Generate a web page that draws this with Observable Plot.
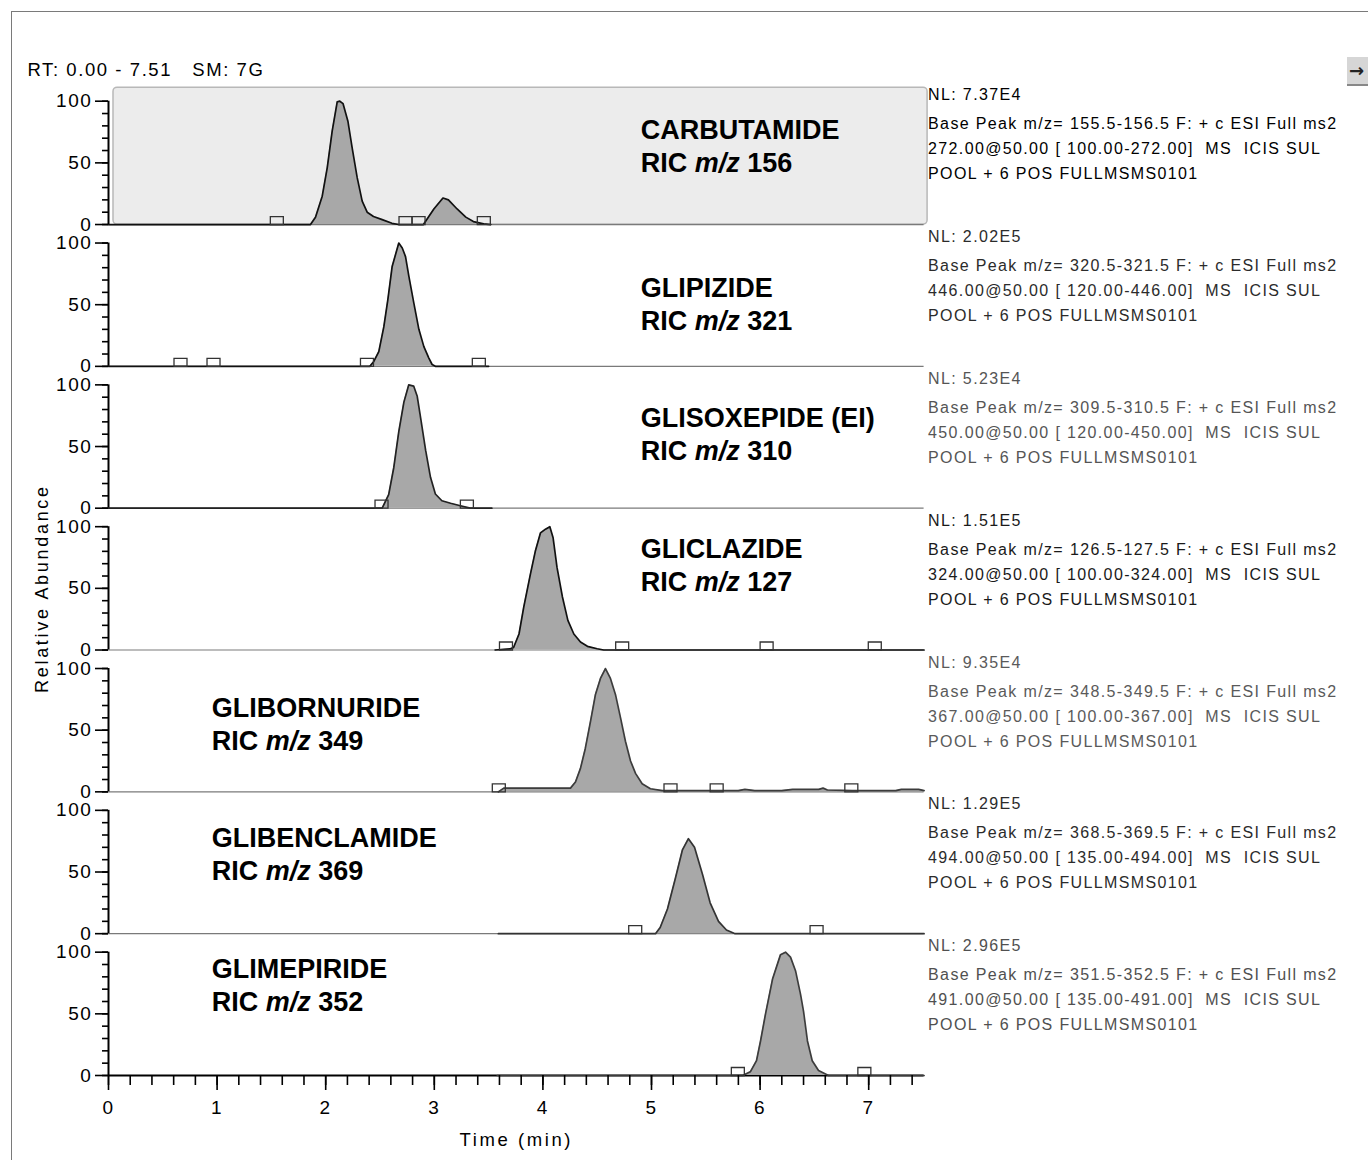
<!DOCTYPE html>
<html><head><meta charset="utf-8">
<script src="https://cdn.jsdelivr.net/npm/d3@7"></script>
<script src="https://cdn.jsdelivr.net/npm/@observablehq/plot@0.6"></script>
<style>
html,body{margin:0;padding:0;background:#fff;}
#wrap{position:relative;width:1368px;height:1160px;overflow:hidden;}
#frame{position:absolute;left:11px;top:11px;width:1400px;height:1200px;border-left:1.5px solid #7a7a7a;border-top:1.5px solid #7a7a7a;pointer-events:none;}
#icon{position:absolute;left:1347px;top:57px;width:24px;height:27px;background:#d6d6d6;border-bottom:2px solid #888;font:bold 18px "DejaVu Sans";line-height:27px;color:#222;padding-left:2px;}
#wrap svg text{white-space:pre;letter-spacing:0.085em;}
#wrap svg g[font-weight="bold"] text{letter-spacing:0;}
</style></head><body><div id="wrap"><div id="frame"></div><div id="icon">→</div></div>
<script>
// ---------- data ----------
const xMax = 7.51;
const panels = ["CARBUTAMIDE", "GLIPIZIDE", "GLISOXEPIDE (EI)", "GLICLAZIDE", "GLIBORNURIDE", "GLIBENCLAMIDE", "GLIMEPIRIDE"];
const ricMz = [156, 321, 310, 127, 349, 369, 352];
const nlValues = ["7.37E4", "2.02E5", "5.23E4", "1.51E5", "9.35E4", "1.29E5", "2.96E5"];
const basePeakRanges = ["155.5-156.5", "320.5-321.5", "309.5-310.5", "126.5-127.5", "348.5-349.5", "368.5-369.5", "351.5-352.5"];
const precursorMz = ["272.00", "446.00", "450.00", "324.00", "367.00", "494.00", "491.00"];
const scanRanges = ["100.00-272.00", "120.00-446.00", "120.00-450.00", "100.00-324.00", "100.00-367.00", "135.00-494.00", "135.00-491.00"];

// [time (min), relative abundance]
const traceCarbutamide = [[0,0],[1.86,0],[1.906,5.9],[1.968,23],[2.014,46],[2.06,76],[2.106,99.5],[2.13,100],[2.16,98],[2.204,84],[2.244,62],[2.29,38],[2.336,19],[2.382,10],[2.44,6.5],[2.52,4],[2.61,1],[2.67,0],[2.90,0],[2.996,12.6],[3.08,21.5],[3.13,20],[3.21,12.6],[3.29,6],[3.36,2.4],[3.455,0.5],[3.52,0]];
const traceGlipizide = [[0,0],[2.406,0],[2.443,4],[2.489,12],[2.535,32],[2.572,54],[2.612,81],[2.673,100],[2.705,96],[2.735,89],[2.766,73],[2.812,51],[2.858,30],[2.904,16],[2.95,6.7],[2.98,1.5],[3.01,0],[3.5,0]];
const traceGlisoxepide = [[0,0],[2.52,0],[2.58,11],[2.627,33],[2.673,62],[2.72,86],[2.765,100],[2.81,99],[2.842,91],[2.878,71],[2.92,47],[2.965,25],[3.01,11.5],[3.07,6],[3.15,4],[3.24,2],[3.33,0],[3.53,0]];
const traceGliclazide = [[3.56,0],[3.7,1],[3.73,2],[3.78,13],[3.824,35],[3.886,62],[3.93,80],[3.978,95],[4.024,98],[4.064,100],[4.094,91],[4.13,67],[4.18,43],[4.23,24],[4.285,13],[4.346,6.5],[4.41,3],[4.5,1],[4.56,0],[7.51,0]];
const traceGlibornuride = [[3.59,0],[3.64,3],[4.254,3],[4.30,8],[4.346,19],[4.39,35],[4.438,57],[4.484,79],[4.53,92],[4.576,100],[4.622,92],[4.668,79],[4.715,60],[4.76,41],[4.807,25],[4.853,15],[4.914,6.5],[4.99,2.5],[5.1,1],[5.8,1],[5.86,2],[5.95,1],[6.2,1],[6.3,2],[6.54,2],[6.58,3],[6.62,1.5],[6.85,1],[7.25,1],[7.3,2],[7.46,2],[7.51,1]];
const traceGlibenclamide = [[3.59,0],[5.037,0],[5.08,5],[5.147,20],[5.22,45],[5.285,68],[5.34,77],[5.396,70],[5.47,48],[5.54,25],[5.617,10],[5.69,3],[5.77,0],[7.51,0]];
const traceGlimepiride = [[3.58,0],[5.84,0],[5.91,3],[5.967,12],[6.004,28],[6.05,50],[6.114,78],[6.188,98],[6.234,100],[6.28,96],[6.326,85],[6.372,66],[6.40,52],[6.436,28],[6.48,12],[6.538,4],[6.63,0],[7.51,0]];

// peak boundary markers (time, min)
const markersCarbutamide = [1.55, 2.735, 2.855, 3.456];
const markersGlipizide = [0.663, 0.967, 2.38, 3.41];
const markersGlisoxepide = [2.514, 3.30];
const markersGliclazide = [3.66, 4.73, 6.06, 7.056];
const markersGlibornuride = [3.594, 5.175, 5.6, 6.84];
const markersGlibenclamide = [4.85, 6.52];
const markersGlimepiride = [5.795, 6.96];

// ---------- layout / style (not data) ----------
const labelAt = [[4.9, 62.9], [4.9, 49.9], [4.9, 59.2], [4.9, 68.1], [0.95, 54.7], [0.95, 64.1], [0.95, 73]];
const annInk = ["#000", "#2b2b2b", "#555", "#1a1a1a", "#5a5a5a", "#2b2b2b", "#505050"];
const traceInk = ["#111", "#111", "#222", "#111", "#3c3c3c", "#333", "#3c3c3c"];

const traces = [traceCarbutamide, traceGlipizide, traceGlisoxepide, traceGliclazide, traceGlibornuride, traceGlibenclamide, traceGlimepiride];
const markers = [markersCarbutamide, markersGlipizide, markersGlisoxepide, markersGliclazide, markersGlibornuride, markersGlibenclamide, markersGlimepiride];

const traceRows = panels.flatMap((p, i) => traces[i].map(([t, v]) => ({panel: p, t, v, ink: traceInk[i]})));
const markerRows = panels.flatMap((p, i) => markers[i].map(t => ({panel: p, t})));
const labelRows = panels.map((p, i) => ({panel: p, name: p, mz: ricMz[i], lx: labelAt[i][0], ly: labelAt[i][1]}));
const annRows = panels.map((p, i) => ({
  panel: p, ink: annInk[i],
  nl: `NL: ${nlValues[i]}`,
  block: `Base Peak m/z= ${basePeakRanges[i]} F: + c ESI Full ms2\n${precursorMz[i]}@50.00 [ ${scanRanges[i]}]  MS  ICIS SUL\nPOOL + 6 POS FULLMSMS0101`
}));

const boxSymbol = {draw(ctx) { ctx.moveTo(-6.5, 0); ctx.lineTo(-6.5, -8); ctx.lineTo(6.5, -8); ctx.lineTo(6.5, 0); ctx.closePath(); }};

const svg = Plot.plot({
  width: 1368, height: 1160,
  marginLeft: 108, marginRight: 1368 - 108 - 108.6 * xMax, marginTop: 82.2, marginBottom: 85,
  x: {domain: [0, xMax]},
  y: {domain: [0, 115], label: null},
  fy: {domain: panels, padding: 0, round: false, axis: null},
  color: {type: "identity"},
  style: {fontFamily: "'Liberation Sans', Arial, sans-serif", fontSize: "16px", color: "#000", background: "#fff", overflow: "visible"},
  marks: [
    Plot.rect([panels[0]], {fy: d => d, x1: 0, x2: xMax, y1: 0, y2: 115, insetLeft: 5, insetRight: -3.5, insetTop: 5, fill: "#ececec", stroke: "#b8b8b8", strokeWidth: 1.5, rx: 4}),
    Plot.ruleY(panels, {fy: d => d, y: 0, stroke: d => d === panels[6] ? "#000" : "#7a7a7a", strokeWidth: d => d === panels[6] ? 2 : 1.2}),
    Plot.areaY(traceRows, {x: "t", y: "v", fy: "panel", fill: "#a8a8a8", curve: "linear"}),
    Plot.lineY(traceRows, {x: "t", y: "v", fy: "panel", stroke: "ink", strokeWidth: 1.7, curve: "linear"}),
    Plot.dot(markerRows, {x: "t", y: 0, fy: "panel", symbol: boxSymbol, r: 4, stroke: "#333", fill: "none", strokeWidth: 1.3}),
    Plot.ruleX([0], {y1: 0, y2: 100, strokeWidth: 2}),
    Plot.axisY({ticks: [0, 50, 100], tickSize: 13, tickPadding: 3, fontSize: 19, label: null, strokeWidth: 1.6}),
    Plot.axisY({ticks: d3.range(0, 101, 10), tickSize: 6, tickFormat: () => "", label: null, strokeWidth: 1.6}),
    Plot.axisX({ticks: d3.range(0, 8), tickSize: 15, tickPadding: 10, fontSize: 19, label: null, strokeWidth: 1.6, facetAnchor: "bottom"}),
    Plot.axisX({ticks: d3.range(0, 38).map(i => i / 5), tickSize: 10, tickFormat: () => "", label: null, strokeWidth: 1.6, facetAnchor: "bottom"}),
    Plot.text(labelRows, {fy: "panel", x: "lx", y: "ly", text: "name", textAnchor: "start", lineAnchor: "middle", fontWeight: "bold", fontSize: 27, dy: -16.5}),
    Plot.text(labelRows, {fy: "panel", x: "lx", y: "ly", text: d => `RIC m/z ${d.mz}`, textAnchor: "start", lineAnchor: "middle", fontWeight: "bold", fontSize: 27, dy: 16.5}),
    Plot.text(annRows, {fy: "panel", frameAnchor: "top-right", text: "nl", fill: "ink", textAnchor: "start", lineAnchor: "middle", fontSize: 16, dx: 4, dy: 12.5}),
    Plot.text(annRows, {fy: "panel", frameAnchor: "top-right", text: "block", fill: "ink", textAnchor: "start", lineAnchor: "middle", fontSize: 16, lineHeight: 25 / 16, dx: 4, dy: 63.5}),
    Plot.text([panels[0]], {fy: d => d, frameAnchor: "top-left", text: () => `RT: 0.00 - ${xMax.toFixed(2)}   SM: 7G`, textAnchor: "start", lineAnchor: "middle", fontSize: 18.5, dx: -81, dy: -12.5}),
    Plot.text([panels[3]], {fy: d => d, frameAnchor: "left", text: () => "Relative Abundance", rotate: -90, textAnchor: "middle", lineAnchor: "middle", fontSize: 18, dx: -66, dy: 9.5}),
    Plot.text([panels[6]], {fy: d => d, frameAnchor: "bottom", text: () => "Time (min)", textAnchor: "middle", lineAnchor: "middle", fontSize: 18.5, dy: 65})
  ]
});

// italic "m/z" inside the RIC labels; wider tracking on the axis titles
d3.select(svg).selectAll("text").each(function() {
  const s = this.textContent;
  const m = /^RIC m\/z (\d+)$/.exec(s);
  if (m) {
    const el = d3.select(this);
    el.text(null);
    el.append("tspan").text("RIC ");
    el.append("tspan").attr("font-style", "italic").text("m/z");
    el.append("tspan").text(" " + m[1]);
  } else if (s === "Relative Abundance") {
    this.style.letterSpacing = "0.15em";
  } else if (s === "Time (min)") {
    this.style.letterSpacing = "0.14em";
  }
});

const wrap = document.getElementById("wrap");
wrap.insertBefore(svg, wrap.firstChild);
</script>
</body></html>
